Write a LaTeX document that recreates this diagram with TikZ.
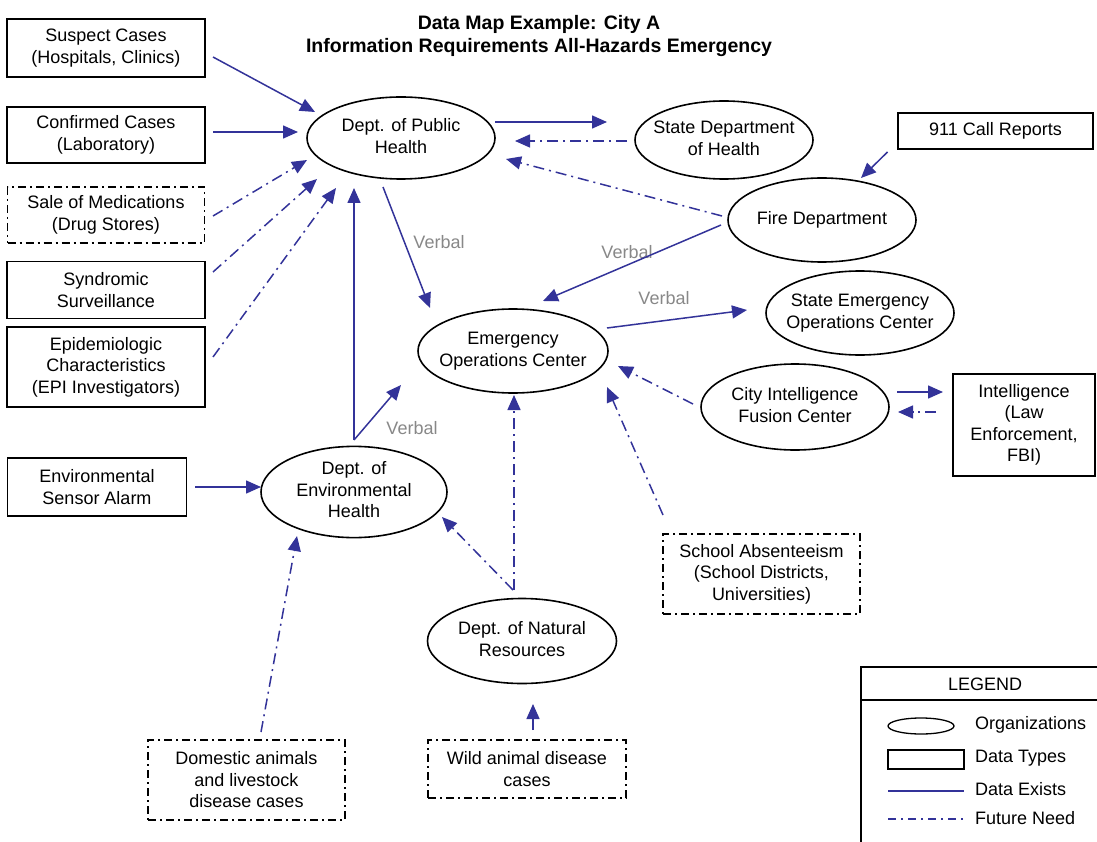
\documentclass[tikz,border=0pt]{standalone}
\usepackage{fontspec}
\setmainfont{Liberation Sans}
\usetikzlibrary{shapes.geometric,arrows.meta}
\definecolor{linkblue}{HTML}{333399}
\definecolor{verbalgray}{HTML}{888888}
% zero-width multi-line label so that an ellipse keeps its given size
\newcommand{\zw}[1]{\makebox[0pt]{\begin{tabular}{@{}c@{}}#1\end{tabular}}}

\begin{document}
\begin{tikzpicture}[x=1pt,y=-1pt,
  every node/.style={font=\fontsize{18}{21.5}\selectfont, align=center, inner sep=0pt, outer sep=0pt},
  org/.style={ellipse, draw, line width=1.6pt},
  databox/.style={rectangle, draw, line width=1.6pt},
  futurebox/.style={databox, dash pattern=on 8pt off 4pt on 2pt off 4pt},
  titletext/.style={font=\fontsize{19.5}{23}\selectfont\bfseries},
  verbal/.style={text=verbalgray},
  flow/.style={draw=linkblue, line width=1.5pt, -{Triangle[length=15pt,width=13pt]}},
  need/.style={flow, dash pattern=on 11pt off 5pt on 2pt off 5pt},
  legendtext/.style={anchor=west}]

\useasboundingbox (0,0) rectangle (1097,842);

% title
\node[titletext] (title) at (539,36) {Data Map Example: City A\\Information Requirements All-Hazards Emergency};

% data types
\node[databox, minimum width=198pt, minimum height=58pt] (sc) at (106,48) {Suspect Cases\\(Hospitals, Clinics)};
\node[databox, minimum width=198pt, minimum height=56pt] (cc) at (106,135) {Confirmed Cases\\(Laboratory)};
\node[futurebox, minimum width=197pt, minimum height=56pt] (sale) at (106,215) {Sale of Medications\\(Drug Stores)};
\node[databox, minimum width=198pt, minimum height=57pt] (synd) at (106,290) {Syndromic\\Surveillance};
\node[databox, minimum width=198pt, minimum height=80pt] (epi) at (106,367) {Epidemiologic\\Characteristics\\(EPI Investigators)};
\node[databox, minimum width=179pt, minimum height=58pt] (sensor) at (97,487) {Environmental\\Sensor Alarm};
\node[databox, minimum width=195pt, minimum height=36pt] (n911) at (995.5,131) {911 Call Reports};
\node[databox, minimum width=142pt, minimum height=102pt] (intel) at (1024,425) {Intelligence\\(Law\\Enforcement,\\FBI)};
\node[futurebox, minimum width=197pt, minimum height=80pt] (school) at (761.5,574) {School Absenteeism\\(School Districts,\\Universities)};
\node[futurebox, minimum width=197pt, minimum height=80pt] (dom) at (246.5,780) {Domestic animals\\and livestock\\disease cases};
\node[futurebox, minimum width=198pt, minimum height=58pt] (wild) at (527,769) {Wild animal disease\\cases};

% organizations
\node[org, minimum width=188pt, minimum height=82pt] (ph) at (401,138) {\zw{Dept. of Public\\Health}};
\node[org, minimum width=178pt, minimum height=78pt] (sdh) at (724,140) {\zw{State Department\\of Health}};
\node[org, minimum width=188pt, minimum height=84pt] (fire) at (822,220) {\zw{Fire Department}};
\node[org, minimum width=188pt, minimum height=84pt] (seoc) at (860,313) {\zw{State Emergency\\Operations Center}};
\node[org, minimum width=190pt, minimum height=84pt] (eoc) at (513,351) {\zw{Emergency\\Operations Center}};
\node[org, minimum width=188pt, minimum height=86pt] (fusion) at (795,407) {\zw{City Intelligence\\Fusion Center}};
\node[org, minimum width=186pt, minimum height=84pt] (envh) at (354,492) {\zw{Dept. of\\Environmental\\Health}};
\node[org, minimum width=189pt, minimum height=85pt] (natres) at (522,641) {\zw{Dept. of Natural\\Resources}};

% verbal annotations
\node[verbal] (v1) at (439,242) {Verbal};
\node[verbal] (v2) at (627,252) {Verbal};
\node[verbal] (v3) at (664,298) {Verbal};
\node[verbal] (v4) at (412,428) {Verbal};

% flows into public health
\draw[flow] ([shift={(107,9)}]sc.center) -- ([shift={(-86,-26)}]ph.center);
\draw[flow] ([shift={(107,-3)}]cc.center) -- ([shift={(-103,-6)}]ph.center);
\draw[need] ([shift={(107,1)}]sale.center) -- ([shift={(-94,22)}]ph.center);
\draw[need] ([shift={(107,-18)}]synd.center) -- ([shift={(-84,41)}]ph.center);
\draw[need] ([shift={(107,-10)}]epi.center) -- ([shift={(-65,50)}]ph.center);

% public health and state department
\draw[flow] ([shift={(94,-16)}]ph.center) -- ([shift={(-117,-18)}]sdh.center);
\draw[need] ([shift={(-97,1)}]sdh.center) -- ([shift={(114,3)}]ph.center);

% fire department
\draw[need] ([shift={(-100,-4)}]fire.center) -- ([shift={(105,21)}]ph.center);
\draw[flow] ([shift={(-108,21)}]n911.center) -- ([shift={(39,-42)}]fire.center);
\draw[flow] ([shift={(-101,5)}]fire.center) -- ([shift={(30,-50)}]eoc.center);

% emergency operations center
\draw[flow] ([shift={(-18,49)}]ph.center) -- ([shift={(-83,-43)}]eoc.center);
\draw[flow] ([shift={(94,-23)}]eoc.center) -- ([shift={(-113,-3)}]seoc.center);
\draw[need] ([shift={(-102,-3)}]fusion.center) -- ([shift={(105,15)}]eoc.center);
\draw[need] ([shift={(-98.5,-59)}]school.center) -- ([shift={(94,36)}]eoc.center);

% fusion center and intelligence
\draw[flow] ([shift={(102,-15)}]fusion.center) -- ([shift={(-81,-33)}]intel.center);
\draw[need] ([shift={(-88,-13)}]intel.center) -- ([shift={(103,5)}]fusion.center);

% environmental health
\coordinate (envtop) at ([shift={(0,-52)}]envh.center);
\draw[flow] (envtop) -- ([shift={(-47,50)}]ph.center);
\draw[flow] (envtop) -- ([shift={(-112,34)}]eoc.center);
\draw[flow] ([shift={(98,0)}]sensor.center) -- ([shift={(-93,-5)}]envh.center);
\draw[need] ([shift={(14.5,-48)}]dom.center) -- ([shift={(-57,44)}]envh.center);

% natural resources
\draw[need] ([shift={(-9,-51)}]natres.center) -- ([shift={(88,25)}]envh.center);
\draw[need] ([shift={(-8,-51)}]natres.center) -- ([shift={(1,44)}]eoc.center);
\draw[need] ([shift={(6,-39)}]wild.center) -- ([shift={(11,63)}]natres.center);

% legend
\draw[line width=1.6pt] (861,850) -- (861,667) -- (1105,667);
\draw[line width=1.6pt] (861,700) -- (1105,700);
\node (legend) at (985,684) {LEGEND};
\draw[line width=1.3pt] (921,726) ellipse [x radius=33, y radius=8];
\draw[line width=1.3pt] (888,750) rectangle (964,769);
\draw[draw=linkblue, line width=1.5pt] (888,791) -- (964,791);
\draw[draw=linkblue, line width=1.5pt, dash pattern=on 8pt off 5pt on 2pt off 5pt] (888,819) -- (964,819);
\node[legendtext] (lorg) at (975,725) {Organizations};
\node[legendtext] (ltype) at (975,758) {Data Types};
\node[legendtext] (lexist) at (975,789) {Data Exists};
\node[legendtext] (lneed) at (975,818) {Future Need};

\end{tikzpicture}
\end{document}
